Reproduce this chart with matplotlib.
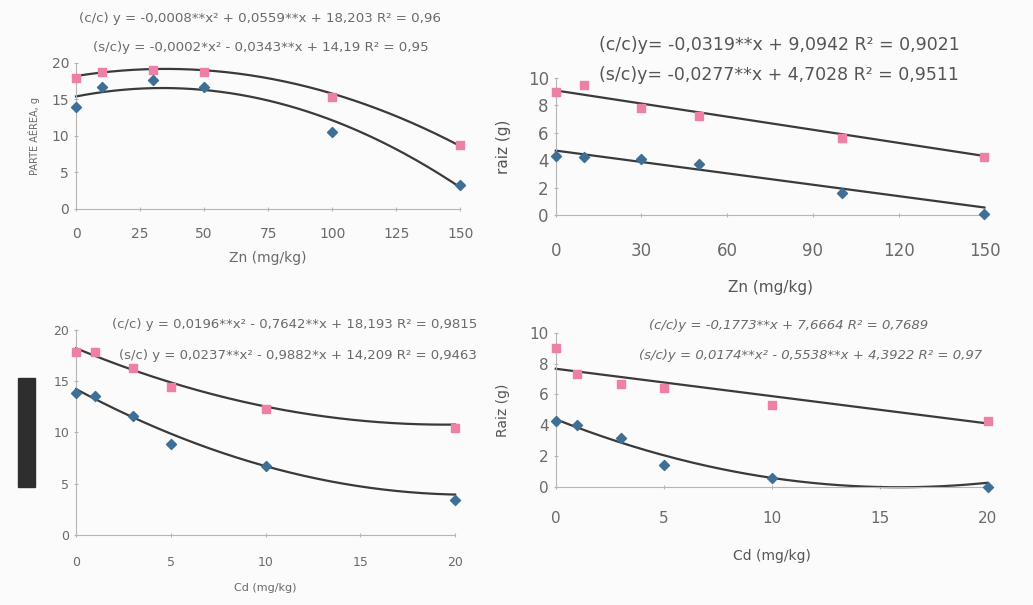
import matplotlib
matplotlib.use('Agg')

import numpy as np
import matplotlib.pyplot as plt

# Panel data
zn_x = [0, 10, 30, 50, 100, 150]
zn_shoot_cc = [18.0, 18.7, 19.0, 18.8, 15.3, 8.7]
zn_shoot_sc = [14.0, 16.7, 17.7, 16.7, 10.5, 3.2]
zn_root_cc = [9.0, 9.5, 7.8, 7.2, 5.6, 4.2]
zn_root_sc = [4.3, 4.2, 4.1, 3.7, 1.6, 0.1]

cd_x = [0, 1, 3, 5, 10, 20]
cd_shoot_cc = [17.8, 17.8, 16.3, 14.4, 12.3, 10.4]
cd_shoot_sc = [13.8, 13.5, 11.6, 8.9, 6.7, 3.4]
cd_root_cc = [9.0, 7.3, 6.7, 6.4, 5.3, 4.3]
cd_root_sc = [4.3, 4.0, 3.2, 1.4, 0.6, 0.0]

# Trend line coefficients (highest power first), as drawn on the panels
fit_zn_shoot_cc = [-0.0008, 0.0559, 18.203]
fit_zn_shoot_sc = [-0.00101, 0.0683, 15.4]
fit_zn_root_cc = [-0.0319, 9.0942]
fit_zn_root_sc = [-0.0277, 4.7028]
fit_cd_shoot_cc = [0.0196, -0.7642, 18.193]
fit_cd_shoot_sc = [0.0237, -0.9882, 14.209]
fit_cd_root_cc = [-0.1773, 7.6664]
fit_cd_root_sc = [0.0174, -0.5538, 4.3922]

PINK = '#ee7fa6'
BLUE = '#3f6f95'
LINE = '#3a3a3a'
SPINE = '#b5b5b5'
TXT = '#6a6a6a'

fig = plt.figure(figsize=(10.33, 6.05), dpi=100)
fig.patch.set_facecolor('#fbfbfb')


def panel(rect, x, cc, sc, fit_cc, fit_sc, xmax, ymax, xticks, yticks, fs):
    ax = fig.add_axes(rect)
    ax.set_facecolor('none')
    xs = np.linspace(0, xmax, 200)
    ax.plot(xs, np.polyval(fit_cc, xs), color=LINE, lw=1.6, clip_on=False)
    ax.plot(xs, np.polyval(fit_sc, xs), color=LINE, lw=1.6, clip_on=False)
    ax.scatter(x, cc, marker='s', s=30, color=PINK, zorder=3, clip_on=False)
    ax.scatter(x, sc, marker='D', s=26, color=BLUE, zorder=3, clip_on=False)
    ax.set_xlim(0, xmax)
    ax.set_ylim(0, ymax)
    ax.set_xticks(xticks)
    ax.set_yticks(yticks)
    for s in ['top', 'right']:
        ax.spines[s].set_visible(False)
    for s in ['left', 'bottom']:
        ax.spines[s].set_color(SPINE)
    ax.tick_params(colors=SPINE, labelcolor=TXT, labelsize=fs, length=3,
                   direction='inout')
    return ax


# Top left: shoot vs Zn
ax1 = panel([0.0736, 0.655, 0.372, 0.241], zn_x, zn_shoot_cc, zn_shoot_sc,
            fit_zn_shoot_cc, fit_zn_shoot_sc, 150, 20,
            [0, 25, 50, 75, 100, 125, 150], [0, 5, 10, 15, 20], 10)
ax1.tick_params(axis='x', pad=12)
ax1.set_xlabel('Zn (mg/kg)', fontsize=10, color=TXT, labelpad=7)
ax1.set_ylabel('PARTE AÉREA, g', fontsize=7, color=TXT, labelpad=8)
fig.text(0.252, 0.970, '(c/c) y = -0,0008**x² + 0,0559**x + 18,203 R² = 0,96',
         fontsize=9.6, color=TXT, ha='center', va='center')
fig.text(0.252, 0.922, '(s/c)y = -0,0002*x² - 0,0343**x + 14,19 R² = 0,95',
         fontsize=9.6, color=TXT, ha='center', va='center')

# Top right: root vs Zn
ax2 = panel([0.538, 0.6446, 0.415, 0.2264], zn_x, zn_root_cc, zn_root_sc,
            fit_zn_root_cc, fit_zn_root_sc, 150, 10,
            [0, 30, 60, 90, 120, 150], [0, 2, 4, 6, 8, 10], 12)
ax2.tick_params(axis='x', pad=18)
ax2.set_xlabel('Zn (mg/kg)', fontsize=11, color='#555555', labelpad=14)
ax2.set_ylabel('raiz (g)', fontsize=11, color='#555555', labelpad=12)
fig.text(0.754, 0.926, '(c/c)y= -0,0319**x + 9,0942 R² = 0,9021',
         fontsize=12.5, color='#555555', ha='center', va='center')
fig.text(0.754, 0.876, '(s/c)y= -0,0277**x + 4,7028 R² = 0,9511',
         fontsize=12.5, color='#555555', ha='center', va='center')

# Bottom left: shoot vs Cd
ax3 = panel([0.0736, 0.116, 0.367, 0.339], cd_x, cd_shoot_cc, cd_shoot_sc,
            fit_cd_shoot_cc, fit_cd_shoot_sc, 20, 20,
            [0, 5, 10, 15, 20], [0, 5, 10, 15, 20], 9)
ax3.tick_params(axis='x', pad=14)
ax3.set_xlabel('Cd (mg/kg)', fontsize=8, color=TXT, labelpad=10)
fig.text(0.285, 0.463, '(c/c) y = 0,0196**x² - 0,7642**x + 18,193 R² = 0,9815',
         fontsize=9.5, color=TXT, ha='center', va='center')
fig.text(0.288, 0.413, '(s/c) y = 0,0237**x² - 0,9882*x + 14,209 R² = 0,9463',
         fontsize=9.5, color=TXT, ha='center', va='center')
# redacted y label block
fig.patches.append(plt.Rectangle((0.0175, 0.195), 0.016, 0.180,
                                 transform=fig.transFigure, color='#2e2e2e'))

# Bottom right: root vs Cd
ax4 = panel([0.538, 0.195, 0.418, 0.255], cd_x, cd_root_cc, cd_root_sc,
            fit_cd_root_cc, fit_cd_root_sc, 20, 10,
            [0, 5, 10, 15, 20], [0, 2, 4, 6, 8, 10], 11)
ax4.tick_params(axis='x', pad=16)
ax4.set_xlabel('Cd (mg/kg)', fontsize=10, color='#555555', labelpad=16)
ax4.set_ylabel('Raiz (g)', fontsize=10, color='#555555', labelpad=14)
fig.text(0.763, 0.462, '(c/c)y = -0,1773**x + 7,6664 R² = 0,7689',
         fontsize=9.5, color=TXT, ha='center', va='center', style='italic')
fig.text(0.785, 0.413, '(s/c)y = 0,0174**x² - 0,5538**x + 4,3922 R² = 0,97',
         fontsize=9.5, color=TXT, ha='center', va='center', style='italic')

fig.savefig('out.png', dpi=100, facecolor=fig.get_facecolor())
plt.close(fig)
